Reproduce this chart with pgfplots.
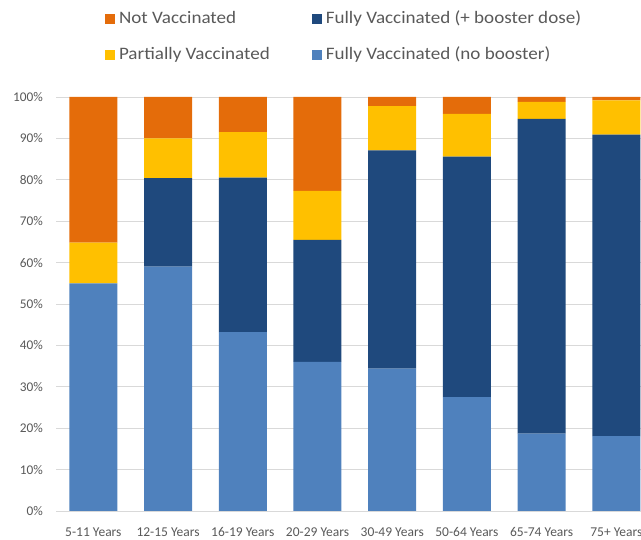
\documentclass[border=0pt]{standalone}
\usepackage{fontspec}
\setmainfont{Carlito}
\newfontfamily\legfont[FakeStretch=1.09]{Carlito}
\usepackage{pgfplots}
\pgfplotsset{compat=1.18}
\definecolor{nobooster}{HTML}{4F81BD}
\definecolor{booster}{HTML}{1F497D}
\definecolor{partial}{HTML}{FFC000}
\definecolor{notvac}{HTML}{E46C0A}
\definecolor{gridc}{HTML}{D9D9D9}
\definecolor{txt}{HTML}{595959}
\begin{document}
\begin{tikzpicture}
\useasboundingbox (0,0) rectangle (641bp,540bp);
\clip (0,0) rectangle (641bp,540bp);
\begin{axis}[
  at={(56bp,29bp)}, anchor=south west,
  scale only axis, width=585bp, height=414bp,
  ybar stacked, bar width=48bp,
  xmin=-0.5, xmax=7.33, ymin=0, ymax=100,
  axis line style={draw=none},
  major tick length=0pt,
  ymajorgrids, grid style={gridc, line width=0.8bp},
  ytick={0,10,...,100},
  yticklabel={\pgfmathprintnumber{\tick}\%},
  xtick={0,...,7},
  xticklabels={5-11 Years,12-15 Years,16-19 Years,20-29 Years,30-49 Years,50-64 Years,65-74 Years,75+ Years},
  /pgf/number format/assume math mode=true,
  yticklabel style={font=\fontsize{13.3bp}{15bp}\selectfont, text=txt, anchor=east, inner sep=0pt, xshift=-13bp},
  xticklabel style={font=\fontsize{13.5bp}{15bp}\selectfont, text=txt, anchor=north, inner sep=0pt, yshift=-16.5bp},
  legend columns=2,
  legend cell align=left,
  legend image code/.code={\path[#1, draw=none] (0bp,-5bp) rectangle (10bp,5bp);},
  legend style={at={(0.0838,1.210)}, anchor=north west, draw=none, fill=none,
    inner sep=0pt, outer sep=0pt,
    font=\legfont\fontsize{17.5bp}{19bp}\selectfont, text=txt,
    nodes={inner sep=1bp, text height=12bp, text depth=4bp},
    /tikz/every odd column/.append style={column sep=3bp},
    /tikz/every even column/.append style={column sep=41bp},
    row sep=18bp},
]
\addlegendimage{fill=notvac, draw=none}
\addlegendentry{Not Vaccinated}
\addlegendimage{fill=booster, draw=none}
\addlegendentry{Fully Vaccinated (+ booster dose)}
\addlegendimage{fill=partial, draw=none}
\addlegendentry{Partially Vaccinated}
\addlegendimage{fill=nobooster, draw=none}
\addlegendentry{Fully Vaccinated (no booster)}

\addplot[fill=nobooster, draw=none] coordinates {(0,55.0) (1,59.0) (2,43.2) (3,36.0) (4,34.4) (5,27.5) (6,18.7) (7,18.1)};
\addplot[fill=booster, draw=none] coordinates {(0,0) (1,21.4) (2,37.3) (3,29.5) (4,52.7) (5,58.1) (6,76.0) (7,72.8)};
\addplot[fill=partial, draw=none] coordinates {(0,9.8) (1,9.6) (2,11.0) (3,11.8) (4,10.7) (5,10.3) (6,4.1) (7,8.3)};
\addplot[fill=notvac, draw=none] coordinates {(0,35.2) (1,10.0) (2,8.5) (3,22.7) (4,2.2) (5,4.1) (6,1.2) (7,0.8)};
\end{axis}
\end{tikzpicture}
\end{document}
